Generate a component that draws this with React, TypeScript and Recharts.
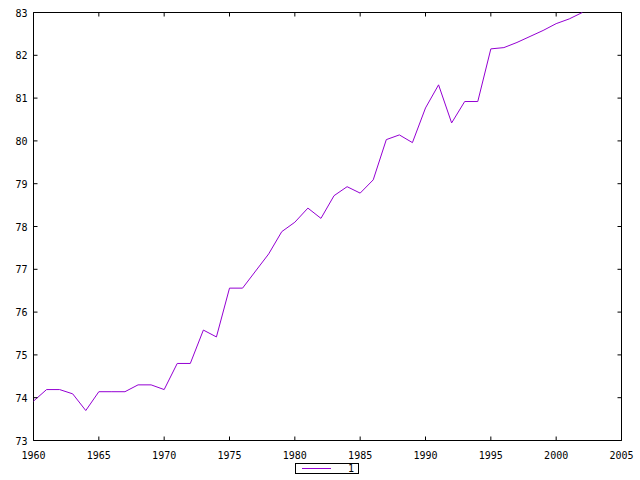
import React from 'react';
import { LineChart, Line, XAxis, YAxis, ReferenceArea } from 'recharts';

const years = [
  1960, 1961, 1962, 1963, 1964, 1965, 1966, 1967, 1968, 1969,
  1970, 1971, 1972, 1973, 1974, 1975, 1976, 1977, 1978, 1979,
  1980, 1981, 1982, 1983, 1984, 1985, 1986, 1987, 1988, 1989,
  1990, 1991, 1992, 1993, 1994, 1995, 1996, 1997, 1998, 1999,
  2000, 2001, 2002,
];

const values = [
  73.92, 74.19, 74.19, 74.09, 73.70, 74.14, 74.14, 74.14, 74.30, 74.30,
  74.19, 74.80, 74.80, 75.58, 75.42, 76.56, 76.56, 76.96, 77.36, 77.88,
  78.10, 78.43, 78.19, 78.72, 78.93, 78.78, 79.09, 80.03, 80.14, 79.96,
  80.77, 81.31, 80.42, 80.92, 80.92, 82.15, 82.18, 82.30, 82.44, 82.58,
  82.74, 82.85, 83.00,
];

const xTicks = [1960, 1965, 1970, 1975, 1980, 1985, 1990, 1995, 2000, 2005];
const yTicks = [73, 74, 75, 76, 77, 78, 79, 80, 81, 82, 83];
const seriesName = '1';

const data = years.map((year, i) => ({ year, value: values[i] }));

const W = 640;
const H = 480;
const margin = { top: 12.5, right: 18.5, bottom: 0, left: 0 };
const Y_AXIS_W = 33.5;
const X_AXIS_H = 39.5;
const PLOT_TOP = margin.top;
const PLOT_RIGHT = W - margin.right;
const TICK = 4;
const FONT = '"DejaVu Sans Mono", monospace';
const LINE_COLOR = '#9400d3';

const XTick = (props: any) => {
  const { x, y, payload } = props;
  return (
    <g>
      <line x1={x} x2={x} y1={y} y2={y - TICK} stroke="#000" />
      <line x1={x} x2={x} y1={PLOT_TOP} y2={PLOT_TOP + TICK} stroke="#000" />
      <text x={x} y={y + 18} textAnchor="middle" fontFamily={FONT} fontSize={10} fill="#000">
        {payload.value}
      </text>
    </g>
  );
};

const YTick = (props: any) => {
  const { x, y, payload } = props;
  return (
    <g>
      <line x1={x} x2={x + TICK} y1={y} y2={y} stroke="#000" />
      <line x1={PLOT_RIGHT} x2={PLOT_RIGHT - TICK} y1={y} y2={y} stroke="#000" />
      <text x={x - 6} y={y + 4} textAnchor="end" fontFamily={FONT} fontSize={10} fill="#000">
        {payload.value}
      </text>
    </g>
  );
};

export default function App() {
  return (
    <div style={{ position: 'absolute', left: 0, top: 0, width: W, height: H, background: '#fff' }}>
      <LineChart width={W} height={H} data={data} margin={margin}>
        <XAxis
          dataKey="year"
          type="number"
          domain={[1960, 2005]}
          ticks={xTicks}
          interval={0}
          height={X_AXIS_H}
          axisLine={false}
          tickLine={false}
          tickSize={0}
          tickMargin={0}
          tick={<XTick />}
        />
        <YAxis
          type="number"
          domain={[73, 83]}
          ticks={yTicks}
          interval={0}
          width={Y_AXIS_W}
          axisLine={false}
          tickLine={false}
          tickSize={0}
          tickMargin={0}
          tick={<YTick />}
        />
        <ReferenceArea
          x1={1960}
          x2={2005}
          y1={73}
          y2={83}
          fill="none"
          stroke="#000"
          strokeWidth={1}
          ifOverflow="visible"
        />
        <Line
          dataKey="value"
          name={seriesName}
          stroke={LINE_COLOR}
          strokeWidth={1}
          dot={false}
          activeDot={false}
          isAnimationActive={false}
        />
      </LineChart>
      <div
        style={{
          position: 'absolute',
          left: 295,
          top: 463,
          width: 64,
          height: 11,
          border: '1px solid #000',
          boxSizing: 'border-box',
          display: 'flex',
          alignItems: 'center',
          fontFamily: FONT,
          fontSize: 10,
        }}
      >
        <span style={{ marginLeft: 6, width: 29, height: 1, background: LINE_COLOR, display: 'inline-block' }} />
        <span style={{ marginLeft: 17 }}>{seriesName}</span>
      </div>
    </div>
  );
}
